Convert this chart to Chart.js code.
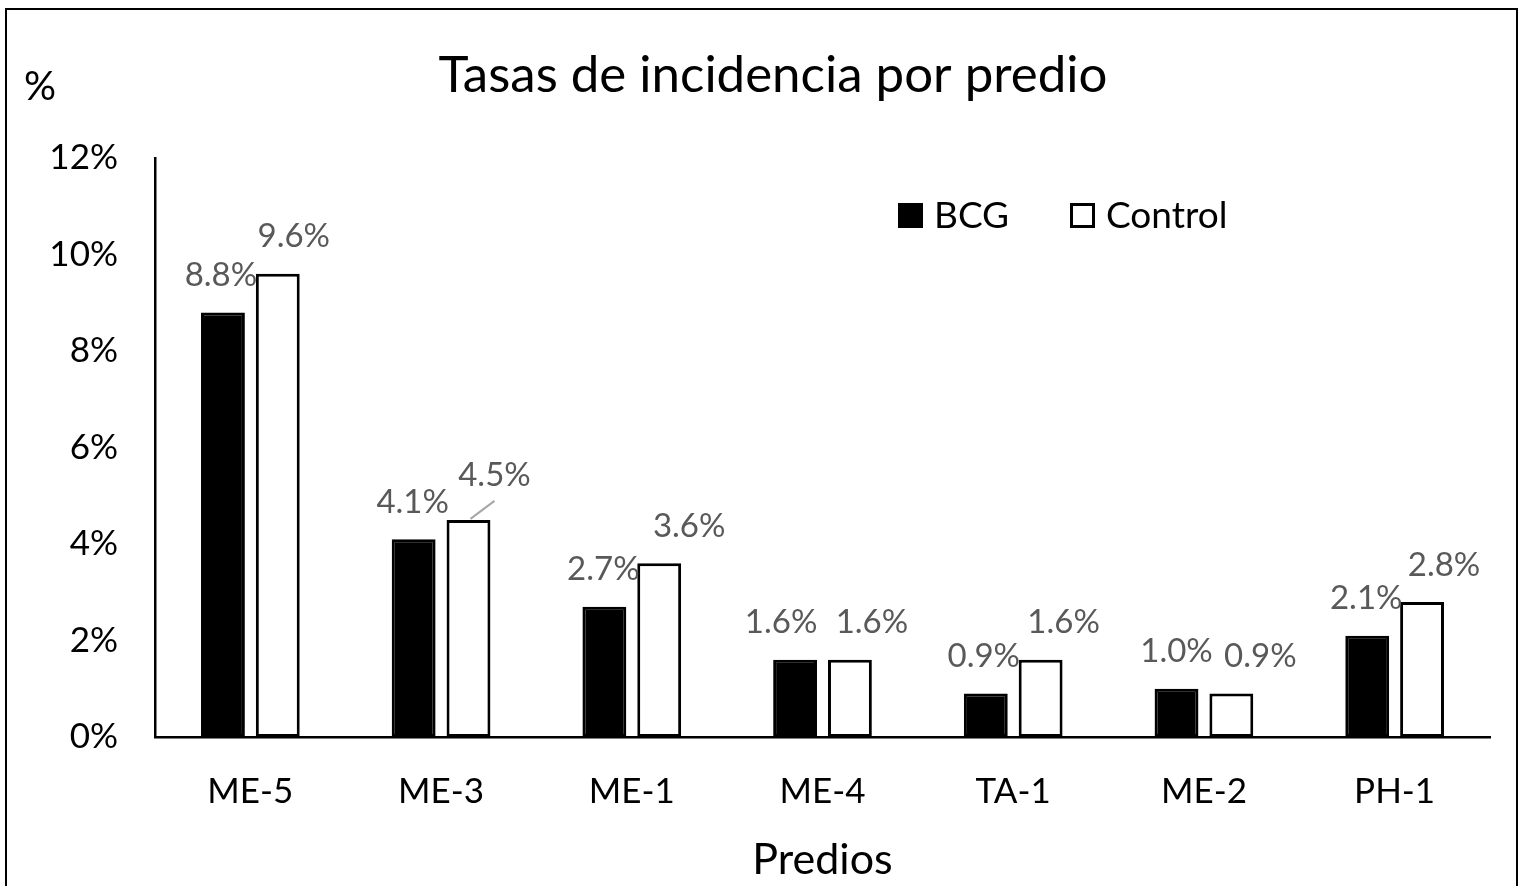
<!DOCTYPE html>
<html>
<head>
<meta charset="utf-8">
<script src="https://cdn.jsdelivr.net/npm/chart.js@4.4.1/dist/chart.umd.min.js"></script>
<style>
  html, body { margin: 0; padding: 0; background: #fff; }
  #wrap { width: 1524px; height: 886px; }
</style>
</head>
<body>
<div id="wrap"><canvas id="incidenceChart" width="1524" height="886"></canvas></div>
<script>
// Tasas de incidencia (%) por predio
var predios = ['ME-5', 'ME-3', 'ME-1', 'ME-4', 'TA-1', 'ME-2', 'PH-1'];
var bcg = [8.8, 4.1, 2.7, 1.6, 0.9, 1.0, 2.1];
var control = [9.6, 4.5, 3.6, 1.6, 1.6, 0.9, 2.8];
var yTicks = [0, 2, 4, 6, 8, 10, 12];

// horizontal nudges for the value labels so neighbours don't collide
var labelDx = [
    [-2, -1, -1, -14, -2, 0, -1],
    [16, 26, 30, 22, 23, 29, 22]
];

var FONT = 'Lato, "Open Sans", sans-serif';

// frame, title, "%" unit, legend and value labels
var decorations = {
    id: 'decorations',
    afterDatasetsDraw: function (chart) {
        var c = chart.ctx;
        c.save();

        c.strokeStyle = '#000';
        c.lineWidth = 2;
        c.strokeRect(6, 9, 1511, 900);

        c.fillStyle = '#000';
        c.textBaseline = 'middle';
        c.textAlign = 'center';
        c.font = '51px ' + FONT;
        c.fillText('Tasas de incidencia por predio', 773, 76);

        c.textAlign = 'left';
        c.font = '40px ' + FONT;
        c.fillText('%', 24, 87);

        // legend
        var items = [
            { x: 898, ds: chart.data.datasets[0] },
            { x: 1070, ds: chart.data.datasets[1] }
        ];
        c.font = '37px ' + FONT;
        items.forEach(function (it) {
            c.fillStyle = it.ds.backgroundColor;
            c.fillRect(it.x, 203, 25, 25);
            c.strokeStyle = '#000';
            c.lineWidth = 3;
            c.strokeRect(it.x + 1.5, 204.5, 22, 22);
            c.fillStyle = '#000';
            c.fillText(it.ds.label, it.x + 36, 216);
        });

        // value labels above bars
        c.font = '33px ' + FONT;
        c.fillStyle = '#595959';
        c.textAlign = 'center';
        chart.data.datasets.forEach(function (ds, di) {
            chart.getDatasetMeta(di).data.forEach(function (bar, i) {
                var txt = ds.data[i].toFixed(1) + '%';
                var x = bar.x + labelDx[di][i], y = bar.y - 37;
                if (di === 1 && i === 1) {
                    // this one sits higher, tied to its bar with a leader line
                    y -= 8;
                    c.strokeStyle = '#a6a6a6';
                    c.lineWidth = 2;
                    c.beginPath();
                    c.moveTo(bar.x + 2, bar.y - 1);
                    c.lineTo(bar.x + 26, bar.y - 19);
                    c.stroke();
                }
                c.fillText(txt, x, y);
            });
        });
        c.restore();
    }
};

var ctx = document.getElementById('incidenceChart').getContext('2d');
new Chart(ctx, {
    type: 'bar',
    data: {
        labels: predios,
        datasets: [{
            label: 'BCG',
            data: bcg,
            backgroundColor: '#000',
            borderColor: '#000',
            borderWidth: 3
        }, {
            label: 'Control',
            data: control,
            backgroundColor: '#fff',
            borderColor: '#000',
            borderWidth: 3
        }]
    },
    options: {
        responsive: false,
        animation: false,
        datasets: {
            bar: { categoryPercentage: 0.575, barPercentage: 0.8, borderSkipped: false }
        },
        layout: { padding: { top: 158, right: 34, left: 0, bottom: 0 } },
        plugins: {
            legend: { display: false },
            title: { display: false },
            tooltip: { enabled: false }
        },
        scales: {
            x: {
                grid: { display: false, drawTicks: false },
                border: { display: true, color: '#000', width: 2.5 },
                ticks: { color: '#000', font: { family: FONT, size: 35 }, padding: 34 },
                title: {
                    display: true, text: 'Predios', color: '#000',
                    font: { family: FONT, size: 43 }, padding: { top: 12, bottom: 0 }
                },
                afterFit: function (s) { s.height = 886 - 737; }
            },
            y: {
                min: 0,
                max: 12,
                grid: { display: false, drawTicks: false },
                border: { display: true, color: '#000', width: 2.5 },
                afterBuildTicks: function (s) {
                    s.ticks = yTicks.map(function (v) { return { value: v }; });
                },
                ticks: {
                    color: '#000',
                    font: { family: FONT, size: 35 },
                    padding: 37,
                    callback: function (v) { return v + '%'; }
                },
                afterFit: function (s) { s.width = 155; }
            }
        }
    },
    plugins: [decorations]
});
</script>
</body>
</html>
